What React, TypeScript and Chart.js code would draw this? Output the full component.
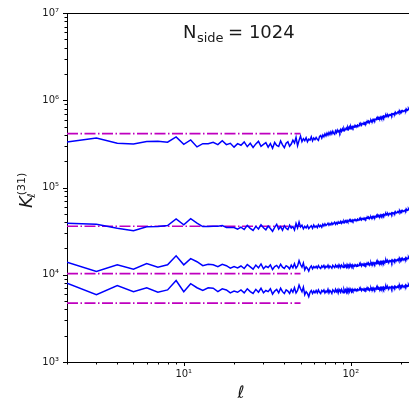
import React, { useEffect, useRef } from 'react';
import { Chart, registerables } from 'chart.js';

Chart.register(...registerables);

// ---------- data ----------
const ELL_START = 2;
const X_MIN = 2;
const X_MAX = 223;
const Y_MIN = 1e3;
const Y_MAX = 1e7;
const VALUE_UNIT = 1000; // series below are in units of 10^3

const xTickValues = [2, 3, 4, 5, 6, 7, 8, 9, 10, 20, 30, 40, 50, 60, 70, 80, 90, 100, 200];
const yTickValues = [
  1e3, 2e3, 3e3, 4e3, 5e3, 6e3, 7e3, 8e3, 9e3,
  1e4, 2e4, 3e4, 4e4, 5e4, 6e4, 7e4, 8e4, 9e4,
  1e5, 2e5, 3e5, 4e5, 5e5, 6e5, 7e5, 8e5, 9e5,
  1e6, 2e6, 3e6, 4e6, 5e6, 6e6, 7e6, 8e6, 9e6, 1e7,
];

const curveA = [
  333, 370, 321, 316, 336, 339, 330, 380, 313, 351,
  292, 318, 318, 330, 310, 344, 310, 321, 290, 318,
  305, 333, 294, 321, 288, 316, 338, 297, 312, 327,
  290, 319, 282, 328, 303, 295, 341, 308, 286, 322,
  334, 297, 315, 349, 324, 376, 302, 347, 389, 336,
  363, 344, 372, 335, 359, 350, 381, 342, 369, 354,
  374, 358, 347, 385, 394, 368, 400, 382, 412, 391,
  420, 398, 428, 404, 434, 410, 441, 417, 407, 446,
  425, 455, 433, 449, 426, 461, 440, 470, 446, 474,
  451, 466, 482, 458, 489, 467, 495, 471, 500, 478,
  499, 482, 500, 493, 515, 502, 509, 498, 520, 515,
  511, 533, 523, 533, 518, 542, 537, 533, 555, 541,
  552, 542, 563, 553, 566, 551, 576, 568, 566, 583,
  587, 570, 588, 581, 603, 590, 598, 587, 609, 604,
  600, 622, 612, 622, 607, 631, 626, 621, 642, 627,
  637, 627, 648, 638, 650, 634, 659, 650, 647, 664,
  667, 649, 667, 659, 681, 667, 674, 663, 684, 678,
  674, 695, 684, 694, 678, 702, 696, 691, 713, 698,
  708, 698, 719, 708, 721, 705, 730, 721, 718, 735,
  738, 720, 738, 730, 751, 738, 745, 733, 754, 748,
  743, 764, 753, 762, 746, 769, 763, 758, 779, 764,
  774, 763, 784, 773, 785, 769, 793, 784, 781, 797,
  800, 782,
];

const curveB = [
  39.0, 38.0, 34.2, 31.9, 35.4, 35.7, 36.6, 43.7, 37.3, 44.0,
  39.0, 35.7, 35.7, 36.0, 36.0, 36.6, 34.8, 34.8, 34.8, 33.3,
  35.1, 33.0, 36.8, 34.0, 32.2, 35.9, 33.5, 37.4, 34.6, 32.8,
  36.2, 33.9, 31.5, 35.0, 37.9, 33.2, 35.6, 32.4, 36.5, 34.1,
  33.0, 36.9, 34.3, 35.8, 32.6, 38.7, 34.5, 40.2, 35.3, 37.0,
  33.6, 35.9, 34.4, 36.7, 33.8, 35.2, 36.4, 34.0, 37.1, 35.0,
  36.3, 34.7, 37.5, 35.6, 36.8, 35.1, 37.9, 36.2, 38.4, 36.6,
  37.6, 39.0, 36.9, 38.5, 37.3, 39.4, 37.8, 38.9, 40.1, 37.9,
  39.6, 38.3, 40.4, 38.8, 39.9, 41.0, 38.9, 40.6, 39.4, 41.3,
  39.8, 41.6, 40.2, 42.0, 40.5, 41.2, 42.5, 40.7, 42.1, 41.0,
  42.4, 41.1, 42.3, 41.8, 43.2, 42.2, 42.6, 41.8, 43.3, 42.8,
  42.4, 43.9, 43.1, 43.8, 42.6, 44.2, 43.7, 43.3, 44.8, 43.7,
  44.4, 43.6, 45.0, 44.3, 45.1, 44.0, 45.6, 44.9, 44.8, 45.9,
  46.0, 44.7, 45.9, 45.4, 46.8, 45.8, 46.2, 45.4, 46.9, 46.4,
  46.0, 47.5, 46.7, 47.4, 46.2, 47.8, 47.3, 46.9, 48.4, 47.3,
  48.0, 47.2, 48.6, 47.9, 48.7, 47.6, 49.2, 48.5, 48.4, 49.5,
  49.6, 48.3, 49.5, 49.0, 50.4, 49.4, 49.8, 49.0, 50.5, 50.0,
  49.6, 51.1, 50.3, 51.0, 49.8, 51.4, 50.9, 50.5, 52.0, 50.9,
  51.6, 50.8, 52.2, 51.5, 52.3, 51.2, 52.8, 52.1, 52.0, 53.1,
  53.2, 51.9, 53.1, 52.6, 54.0, 53.0, 53.4, 52.6, 54.1, 53.6,
  53.2, 54.7, 53.9, 54.6, 53.4, 55.0, 54.5, 54.1, 55.6, 54.5,
  55.2, 54.4, 55.8, 55.1, 55.9, 54.8, 56.4, 55.7, 55.6, 56.7,
  56.8, 55.5,
];

const curveC = [
  13.9, 10.9, 13.0, 11.6, 13.4, 12.2, 13.0, 16.5, 13.0, 15.3,
  14.1, 12.7, 13.2, 13.0, 12.4, 13.2, 12.7, 11.9, 12.4, 12.0,
  12.6, 11.8, 13.1, 12.3, 11.6, 12.9, 12.0, 13.3, 11.7, 12.5,
  12.1, 13.0, 11.5, 12.4, 12.8, 11.9, 13.2, 12.2, 11.8, 12.7,
  12.3, 11.7, 12.9, 12.0, 13.4, 11.9, 12.6, 14.5, 13.1, 12.2,
  13.6, 11.4, 12.3, 11.8, 11.0, 12.1, 12.6, 11.7, 12.4, 12.0,
  12.5, 11.9, 12.7, 12.1, 11.8, 12.6, 12.2, 12.8, 11.9, 12.5,
  12.2, 12.9, 12.0, 12.6, 12.3, 11.9, 12.8, 12.4, 12.1, 12.9,
  12.3, 12.7, 12.1, 13.0, 12.4, 12.2, 12.9, 12.5, 12.1, 13.0,
  12.4, 12.8, 12.2, 13.1, 12.5, 12.9, 12.3, 13.2, 12.6, 12.4,
  12.95, 12.4, 12.8, 12.55, 13.05, 12.75, 12.85, 12.5, 13.0, 12.8,
  12.75, 13.25, 12.9, 13.1, 12.6, 13.25, 13.05, 12.9, 13.35, 12.95,
  13.25, 12.95, 13.4, 13.1, 13.35, 13.0, 13.55, 13.3, 13.15, 13.5,
  13.7, 13.15, 13.55, 13.3, 13.8, 13.5, 13.6, 13.25, 13.75, 13.55,
  13.5, 14.0, 13.65, 13.85, 13.35, 14.0, 13.8, 13.65, 14.1, 13.7,
  14.0, 13.7, 14.15, 13.85, 14.1, 13.75, 14.3, 14.05, 13.9, 14.25,
  14.45, 13.9, 14.3, 14.05, 14.55, 14.25, 14.35, 14.0, 14.5, 14.3,
  14.25, 14.75, 14.4, 14.6, 14.1, 14.75, 14.55, 14.4, 14.85, 14.45,
  14.75, 14.45, 14.9, 14.6, 14.85, 14.5, 15.05, 14.8, 14.65, 15.0,
  15.2, 14.65, 15.05, 14.8, 15.3, 15.0, 15.1, 14.75, 15.25, 15.05,
  15.0, 15.5, 15.15, 15.35, 14.85, 15.5, 15.3, 15.15, 15.6, 15.2,
  15.5, 15.2, 15.65, 15.35, 15.6, 15.25, 15.8, 15.55, 15.4, 15.75,
  15.9, 15.5,
];

const curveD = [
  8.0, 5.9, 7.5, 6.4, 7.1, 6.3, 6.7, 8.6, 6.4, 7.9,
  7.1, 6.6, 7.1, 7.0, 6.4, 6.9, 6.7, 6.2, 6.5, 6.3,
  6.7, 6.2, 6.9, 6.4, 6.1, 6.8, 6.3, 7.0, 6.2, 6.6,
  6.4, 6.9, 6.0, 6.5, 6.8, 6.2, 7.0, 6.4, 6.1, 6.7,
  6.5, 6.1, 6.8, 6.3, 7.1, 6.2, 6.6, 7.6, 6.9, 6.4,
  7.2, 5.9, 6.4, 6.1, 5.6, 6.3, 6.6, 6.1, 6.5, 6.2,
  6.6, 6.2, 6.7, 6.3, 6.1, 6.6, 6.4, 6.7, 6.2, 6.5,
  6.3, 6.8, 6.2, 6.6, 6.4, 6.1, 6.7, 6.5, 6.3, 6.8,
  6.4, 6.7, 6.2, 6.8, 6.5, 6.3, 6.8, 6.5, 6.2, 6.8,
  6.4, 6.7, 6.3, 6.9, 6.5, 6.8, 6.4, 6.9, 6.6, 6.4,
  6.82, 6.55, 6.75, 6.62, 6.87, 6.68, 6.73, 6.55, 6.8, 6.7,
  6.67, 6.92, 6.74, 6.85, 6.6, 6.87, 6.77, 6.69, 6.92, 6.72,
  6.87, 6.72, 6.94, 6.79, 6.92, 6.69, 6.96, 6.84, 6.76, 6.94,
  7.03, 6.76, 6.96, 6.83, 7.08, 6.89, 6.94, 6.76, 7.01, 6.91,
  6.88, 7.13, 6.95, 7.06, 6.81, 7.08, 6.98, 6.9, 7.13, 6.93,
  7.08, 6.93, 7.15, 7.0, 7.13, 6.9, 7.17, 7.05, 6.97, 7.15,
  7.24, 6.97, 7.17, 7.04, 7.29, 7.1, 7.15, 6.97, 7.22, 7.12,
  7.1, 7.35, 7.17, 7.28, 7.03, 7.3, 7.2, 7.12, 7.35, 7.15,
  7.31, 7.16, 7.38, 7.23, 7.36, 7.13, 7.4, 7.28, 7.2, 7.38,
  7.48, 7.21, 7.41, 7.28, 7.53, 7.34, 7.39, 7.21, 7.46, 7.36,
  7.34, 7.59, 7.41, 7.52, 7.27, 7.54, 7.44, 7.36, 7.59, 7.39,
  7.55, 7.4, 7.62, 7.47, 7.6, 7.37, 7.64, 7.52, 7.44, 7.62,
  7.7, 7.5,
];

const measuredCurves = [curveA, curveB, curveC, curveD];
const referenceLevels = [414000, 36000, 10300, 4730];
const referenceEllRange = [2, 50];

const titleMain = 'N';
const titleSub = 'side';
const titleRest = '= 1024';
const xAxisLabel = 'ℓ';
const yLabelMain = 'K';
const yLabelSup = '(31)';
const yLabelSub = 'ℓ';

// ---------- styles ----------
const BLUE = '#0000ff';
const MAGENTA = '#bf00bf';
const TEXT = '#1a1a1a';
const FONT = 'DejaVu Sans';

const SUPERSCRIPTS: Record<string, string> = {
  '0': '⁰', '1': '¹', '2': '²', '3': '³', '4': '⁴',
  '5': '⁵', '6': '⁶', '7': '⁷', '8': '⁸', '9': '⁹', '-': '⁻',
};

function isPow10(v: number) {
  const l = Math.log10(v);
  return Math.abs(l - Math.round(l)) < 1e-9;
}
function pow10Label(v: number) {
  const e = String(Math.round(Math.log10(v)));
  return '10' + e.split('').map((c) => SUPERSCRIPTS[c] || c).join('');
}

const decorPlugin = {
  id: 'decor',
  afterDraw(chart: any) {
    const { ctx, chartArea } = chart;
    const { left, right, top, bottom } = chartArea;
    const xs = chart.scales.x;
    const ys = chart.scales.y;
    ctx.save();
    // top spine
    ctx.strokeStyle = '#000';
    ctx.lineWidth = 1;
    ctx.beginPath();
    ctx.moveTo(left - 0.5, Math.round(top) + 0.5);
    ctx.lineTo(right, Math.round(top) + 0.5);
    ctx.stroke();
    // tick marks (outward)
    for (const t of xs.ticks) {
      const px = Math.round(xs.getPixelForValue(t.value)) + 0.5;
      if (px < left - 1 || px > right + 1) continue;
      const len = isPow10(t.value) ? 4 : 2.5;
      ctx.beginPath();
      ctx.moveTo(px, bottom);
      ctx.lineTo(px, bottom + len);
      ctx.stroke();
    }
    for (const t of ys.ticks) {
      const py = Math.round(ys.getPixelForValue(t.value)) + 0.5;
      const len = isPow10(t.value) ? 4 : 2.5;
      ctx.beginPath();
      ctx.moveTo(left, py);
      ctx.lineTo(left - len, py);
      ctx.stroke();
    }
    ctx.fillStyle = TEXT;
    ctx.textBaseline = 'alphabetic';
    ctx.textAlign = 'left';
    // title
    ctx.font = `18px "${FONT}"`;
    ctx.fillText(titleMain, 183, 38);
    const wN = ctx.measureText(titleMain).width;
    ctx.font = `13px "${FONT}"`;
    ctx.fillText(titleSub, 183 + wN + 0.5, 42);
    const wS = ctx.measureText(titleSub).width;
    ctx.font = `18px "${FONT}"`;
    ctx.fillText(titleRest, 183 + wN + wS + 5, 38);
    // x label
    ctx.font = `italic 17px "${FONT}"`;
    ctx.textAlign = 'center';
    ctx.fillText(xAxisLabel, 241, 398);
    // y label (rotated)
    ctx.translate(32, 188);
    ctx.rotate(-Math.PI / 2);
    ctx.textAlign = 'left';
    ctx.font = `italic 18px "${FONT}"`;
    const x0 = -20;
    ctx.fillText(yLabelMain, x0, 0);
    const wK = ctx.measureText(yLabelMain).width;
    ctx.font = `11px "${FONT}"`;
    ctx.fillText(yLabelSup, x0 + wK + 1, -7);
    ctx.font = `italic 11px "${FONT}"`;
    ctx.fillText(yLabelSub, x0 + wK - 1.5, 3);
    ctx.restore();
  },
};

export default function App() {
  const canvasRef = useRef<HTMLCanvasElement | null>(null);

  useEffect(() => {
    document.body.style.margin = '0';
    const canvas = canvasRef.current;
    if (!canvas) return;

    const blueSets = measuredCurves.map((curve) => ({
      data: curve.map((v, i) => ({ x: ELL_START + i, y: v * VALUE_UNIT })),
      borderColor: BLUE,
      borderWidth: 1.5,
      pointRadius: 0,
      tension: 0,
      fill: false,
    }));
    const refSets = referenceLevels.map((lvl) => ({
      data: referenceEllRange.map((l) => ({ x: l, y: lvl })),
      borderColor: MAGENTA,
      borderWidth: 1.6,
      borderDash: [11, 2.5, 1.5, 2.5],
      borderCapStyle: 'butt',
      pointRadius: 0,
      tension: 0,
      fill: false,
    }));

    const chart = new Chart(canvas, {
      type: 'line',
      data: { datasets: [...blueSets, ...refSets] as any },
      options: {
        responsive: false,
        animation: false,
        devicePixelRatio: 1,
        layout: { padding: { top: 13, right: 0, left: 0, bottom: 0 } },
        plugins: { legend: { display: false }, tooltip: { enabled: false } },
        scales: {
          x: {
            type: 'logarithmic',
            min: X_MIN,
            max: X_MAX,
            afterBuildTicks: (s: any) => {
              s.ticks = xTickValues.map((v) => ({ value: v }));
            },
            afterFit: (s: any) => {
              s.height = 39;
            },
            grid: { display: true, drawOnChartArea: false, tickLength: 4, tickColor: 'rgba(0,0,0,0)' },
            border: { display: true, color: '#000', width: 1 },
            ticks: {
              autoSkip: false,
              maxRotation: 0,
              minRotation: 0,
              padding: 2,
              color: TEXT,
              font: { family: FONT, size: 10 },
              callback: (v: any) => (isPow10(Number(v)) ? pow10Label(Number(v)) : ''),
            },
          },
          y: {
            type: 'logarithmic',
            min: Y_MIN,
            max: Y_MAX,
            afterBuildTicks: (s: any) => {
              s.ticks = yTickValues.map((v) => ({ value: v }));
            },
            afterFit: (s: any) => {
              s.width = 67;
            },
            grid: { display: true, drawOnChartArea: false, tickLength: 4, tickColor: 'rgba(0,0,0,0)' },
            border: { display: true, color: '#000', width: 1 },
            ticks: {
              autoSkip: false,
              padding: 4,
              color: TEXT,
              font: { family: FONT, size: 10 },
              callback: (v: any) => (isPow10(Number(v)) ? pow10Label(Number(v)) : ''),
            },
          },
        },
      } as any,
      plugins: [decorPlugin],
    });

    return () => chart.destroy();
  }, []);

  return (
    <div style={{ width: 409, height: 401, background: '#fff' }}>
      <canvas ref={canvasRef} width={409} height={401} style={{ display: 'block' }} />
    </div>
  );
}
